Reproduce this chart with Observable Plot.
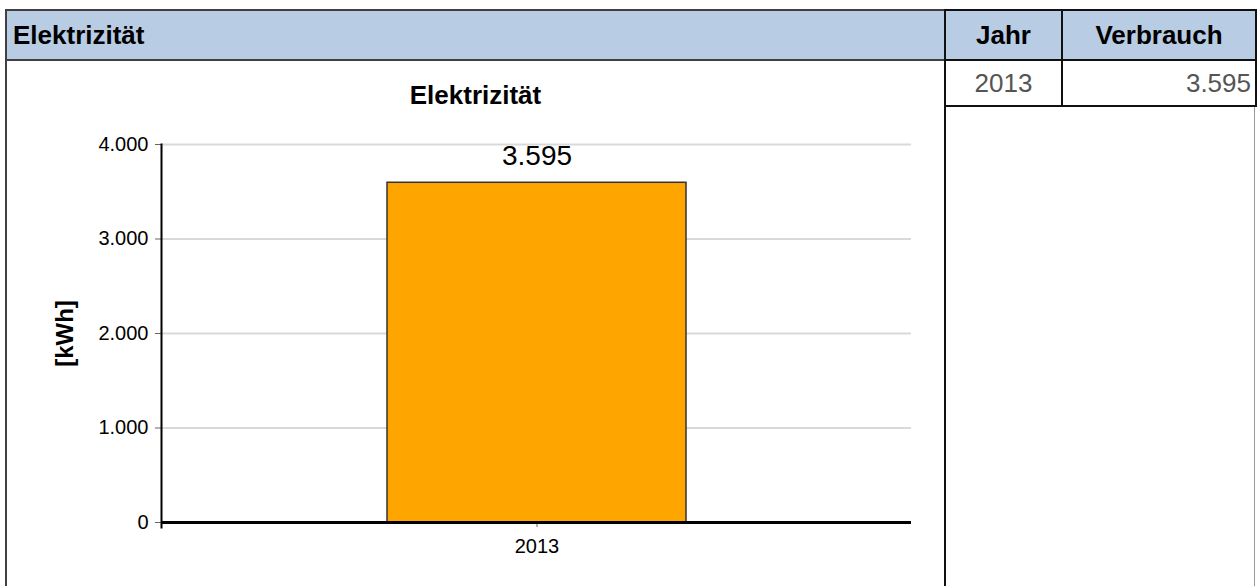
<!DOCTYPE html>
<html>
<head>
<meta charset="utf-8">
<script src="https://cdn.jsdelivr.net/npm/d3@7"></script>
<script src="https://cdn.jsdelivr.net/npm/@observablehq/plot@0.6"></script>
<style>
  html, body { margin: 0; padding: 0; background: #fff; }
  body { width: 1260px; height: 586px; position: relative; overflow: hidden; font-family: "Liberation Sans", Arial, sans-serif; }
  #header { position: absolute; left: 5px; top: 9px; width: 941px; height: 52px; box-sizing: border-box;
            background: #b8cce4; border: 2px solid #404040; }
  #header span { position: absolute; left: 6px; top: 9px; font-size: 26px; line-height: 30px; font-weight: bold; color: #000; }
  #leftBorder { position: absolute; left: 5px; top: 60px; width: 2px; height: 526px; background: #404040; }
  #midBorder { position: absolute; left: 944px; top: 60px; width: 2px; height: 526px; background: #111; }
  #title { position: absolute; left: 7px; width: 937px; top: 80px; line-height: 30px; text-align: center; font-size: 26px; font-weight: bold; color: #000; }
  #chart { position: absolute; left: 0; top: 110px; }
  #tbl { position: absolute; left: 944px; top: 9px; border-collapse: collapse; }
  #tbl th { background: #b8cce4; font-size: 26px; line-height: 30px; font-weight: bold; height: 48px; padding: 0; border: 2px solid #111; text-align: center; }
  #tbl td { font-size: 26px; line-height: 30px; color: #555; height: 46px; padding: 0 4px; border: 2px solid #111; border-top: 0; vertical-align: top; padding-top: 7px; box-sizing: border-box; }
  #rest { position: absolute; left: 945px; top: 105px; width: 310px; height: 490px; box-sizing: border-box;
          border: 1px solid #999; border-left: 0; }
</style>
</head>
<body>
<div id="header"><span></span></div>
<div id="leftBorder"></div>
<div id="rest"></div>
<div id="midBorder"></div>
<div id="title"></div>
<div id="chart"></div>
<table id="tbl"><thead><tr></tr></thead><tbody></tbody></table>
<script>
const headerTitle = "Elektrizität";
const chartTitle = "Elektrizität";
const yLabel = "[kWh]";
const tableColumns = ["Jahr", "Verbrauch"];
const years = ["2013"];
const values = [3595];
const yTicks = [0, 1000, 2000, 3000, 4000];

const fmt = v => d3.formatLocale({decimal: ",", thousands: ".", grouping: [3], currency: ["", " €"]}).format(",")(v);

document.querySelector("#header span").textContent = headerTitle;
document.getElementById("title").textContent = chartTitle;

// table
const headRow = document.querySelector("#tbl thead tr");
tableColumns.forEach((c, i) => {
  const th = document.createElement("th");
  th.textContent = c;
  th.style.width = i === 0 ? "115px" : "192px";
  headRow.appendChild(th);
});
const tbody = document.querySelector("#tbl tbody");
years.forEach((y, i) => {
  const tr = document.createElement("tr");
  const td1 = document.createElement("td"); td1.textContent = y; td1.style.textAlign = "center";
  const td2 = document.createElement("td"); td2.textContent = fmt(values[i]); td2.style.textAlign = "right";
  tr.appendChild(td1); tr.appendChild(td2);
  tbody.appendChild(tr);
});

const data = years.map((y, i) => ({year: y, value: values[i]}));

const chart = Plot.plot({
  width: 944,
  height: 476,
  marginTop: 34,
  marginBottom: 64,
  marginLeft: 161,
  marginRight: 33,
  style: {fontFamily: "'Liberation Sans', Arial, sans-serif", fontSize: "20px", color: "#000", background: "transparent", overflow: "visible"},
  x: {domain: years, paddingInner: 0, paddingOuter: 0.754, label: null},
  y: {domain: [0, 4000], ticks: yTicks, label: null},
  marks: [
    Plot.gridY(yTicks, {stroke: "#d9d9d9", strokeOpacity: 1, strokeWidth: 2}),
    Plot.barY(data, {x: "year", y: "value", fill: "#FFA500", stroke: "#333", strokeWidth: 1.5}),
    Plot.axisY(yTicks, {tickSize: 6, tickPadding: 7, tickFormat: fmt, fontSize: 20, stroke: "#666", fill: "#000", label: null}),
    Plot.axisX({tickSize: 5, tickPadding: 11, fontSize: 20, stroke: "#666", fill: "#000", label: null}),
    Plot.ruleY([0], {stroke: "#000", strokeWidth: 3}),
    Plot.frame({anchor: "left", stroke: "#000", strokeWidth: 2, insetBottom: -5}),
    Plot.text(data, {x: "year", y: "value", text: d => fmt(d.value), dy: -27, fontSize: 28, fill: "#000"}),
    Plot.text([yLabel], {frameAnchor: "left", textAnchor: "middle", dx: -96, rotate: -90, fontWeight: "bold", fontSize: 24, fill: "#000"})
  ]
});
document.getElementById("chart").appendChild(chart);
</script>
</body>
</html>
